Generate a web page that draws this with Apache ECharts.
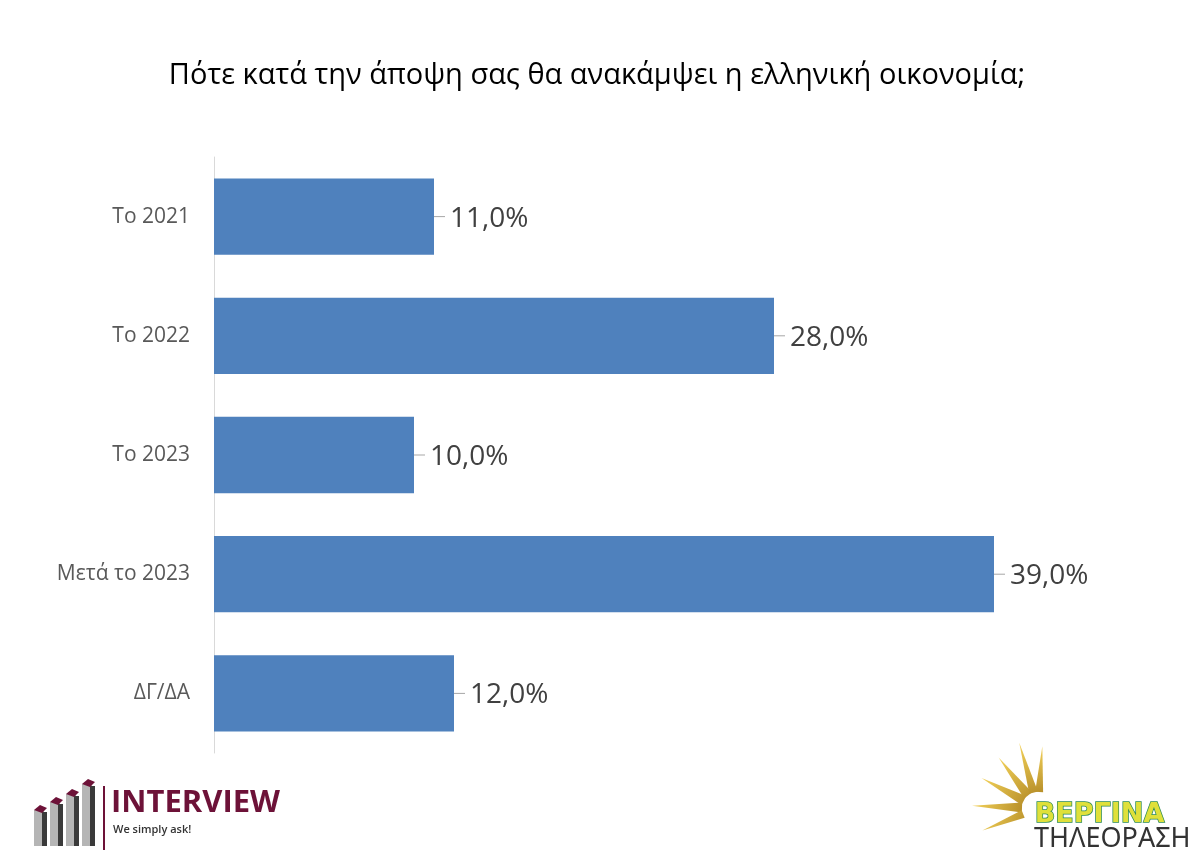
<!DOCTYPE html>
<html><head><meta charset="utf-8">
<script src="https://cdn.jsdelivr.net/npm/echarts@6/dist/echarts.min.js"></script>
<style>html,body{margin:0;padding:0;background:#fff}#c{width:1194px;height:862px}</style>
</head><body><div id="c"></div>
<script>
const titleText = 'Πότε κατά την άποψη σας θα ανακάμψει η ελληνική οικονομία;';
const categories = ['Το 2021', 'Το 2022', 'Το 2023', 'Μετά το 2023', 'ΔΓ/ΔΑ'];
const values = [11.0, 28.0, 10.0, 39.0, 12.0];

const chart = echarts.init(document.getElementById('c'), null, {renderer: 'canvas'});
const FONT = '"Open Sans", "Noto Sans", sans-serif';

// sun rays for logo
const rays = [];
const cx = 1038, cy = 808;
const rayDefs = [[-178, 66, 10], [-152, 64, 10], [-128, 64, 10], [-106, 68, 9], [-86, 62, 8], [158, 60, 8]];
rayDefs.forEach(([ang, len, w]) => {
  const a = ang * Math.PI / 180;
  const ex = cx + Math.cos(a) * len, ey = cy + Math.sin(a) * len;
  const sx = cx + Math.cos(a) * 16, sy = cy + Math.sin(a) * 16;
  const px = -Math.sin(a), py = Math.cos(a);
  rays.push({type: 'polygon', shape: {points: [[sx + px * w / 2, sy + py * w / 2], [ex, ey], [sx - px * w / 2, sy - py * w / 2]]},
    style: {fill: new echarts.graphic.LinearGradient(0, 0, 1, 1, [{offset: 0, color: '#f3d25a'}, {offset: 1, color: '#b8902a'}])}, silent: true});
});

// interview icon bars
const icon = [];
const bx = [34, 50, 66, 82], bh = [20, 28, 36, 46];
bx.forEach((x, i) => {
  const top = 830 - bh[i];
  icon.push({type: 'rect', shape: {x: x, y: top, width: 10, height: bh[i] + 16}, style: {fill: '#b5b5b5'}});
  icon.push({type: 'rect', shape: {x: x + 8, y: top + 2, width: 5, height: bh[i] + 14}, style: {fill: '#3a3a3a'}});
  icon.push({type: 'polygon', shape: {points: [[x, top], [x + 6, top - 5], [x + 13, top - 2], [x + 8, top + 3]]}, style: {fill: '#6d1238'}});
});

chart.setOption({
  animation: false,
  backgroundColor: '#ffffff',
  title: {
    text: titleText, left: 'center', top: 56,
    textStyle: {fontFamily: FONT, fontSize: 29, fontWeight: 'normal', color: '#000000'}
  },
  grid: {left: 214, top: 157, width: 900, height: 596, containLabel: false},
  xAxis: {type: 'value', min: 0, max: 45, show: false},
  yAxis: {
    type: 'category', data: categories, inverse: true,
    axisLine: {show: true, lineStyle: {color: '#d9d9d9', width: 1}},
    axisTick: {show: false},
    axisLabel: {fontFamily: FONT, fontSize: 21, color: '#595959', margin: 24}
  },
  series: [{
    type: 'bar', data: values, barCategoryGap: '36%',
    itemStyle: {color: '#4f81bd'},
    label: {
      show: true, position: 'right', distance: 0,
      formatter: p => '{l|}{s|}{v|' + p.value.toFixed(1).replace('.', ',') + '%}',
      rich: {
        l: {width: 11, height: 1, backgroundColor: '#a6a6a6'},
        s: {width: 5},
        v: {fontFamily: FONT, fontSize: 28, color: '#404040', padding: [4, 0, 0, 0]}
      }
    }
  }],
  graphic: [
    ...icon,
    {type: 'line', shape: {x1: 104, y1: 786, x2: 104, y2: 850}, style: {stroke: '#6d1238', lineWidth: 2}},
    {type: 'text', left: 111, top: 788, style: {text: 'INTERVIEW', font: 'bold 31px "Open Sans", sans-serif', fill: '#6d1238'}},
    {type: 'text', left: 113, top: 824, style: {text: 'We simply ask!', font: '600 11px "Open Sans", sans-serif', fill: '#333333'}},
    ...rays,
    {type: 'text', left: 1034, top: 801, style: {text: 'ΒΕΡΓΙΝΑ', font: 'bold 27px "DejaVu Sans", sans-serif', fill: '#dfe03a', stroke: '#2b8a55', lineWidth: 1.5}},
    {type: 'text', left: 1034, top: 826, style: {text: 'ΤΗΛΕΟΡΑΣΗ', font: '27px "Noto Sans", sans-serif', fill: '#333333'}}
  ]
});
</script></body></html>
